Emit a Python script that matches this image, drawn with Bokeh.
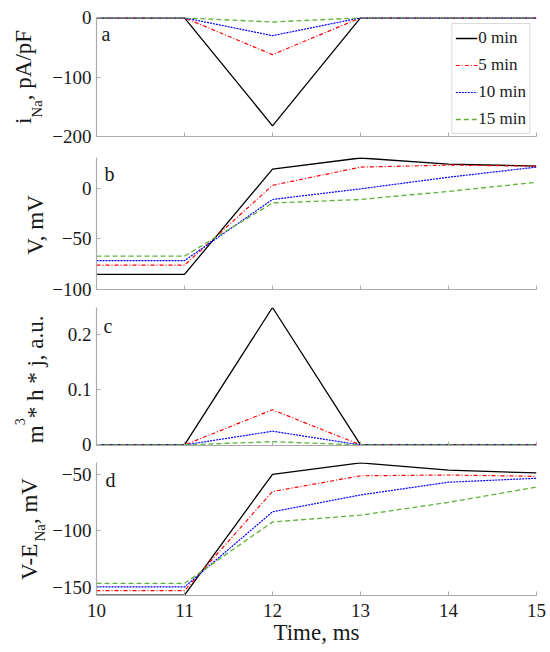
import math
from bokeh.plotting import figure
from bokeh.models import Range1d, FixedTicker, Label
from bokeh.layouts import column, row
from bokeh.core.properties import value
from bokeh.embed import file_html
from bokeh.resources import INLINE

# ---------------- data ----------------
time_ms = [10, 11, 12, 13, 14, 15]
series_names = ["0 min", "5 min", "10 min", "15 min"]

ina_0 = [0, 0, -182, 0, 0, 0]
ina_5 = [0, 0, -62, 0, 0, 0]
ina_10 = [0, 0, -30, 0, 0, 0]
ina_15 = [0, 0, -7, 0, 0, 0]

v_0 = [-85, -85, 19, 30, 24, 22]
v_5 = [-76, -76, 3, 21, 23, 22]
v_10 = [-71.5, -71.5, -11, -0.5, 11, 21]
v_15 = [-67, -67, -14.5, -11, -3, 6]

gate_0 = [0, 0, 0.25, 0, 0, 0]
gate_5 = [0, 0, 0.064, 0, 0, 0]
gate_10 = [0, 0, 0.025, 0, 0, 0]
gate_15 = [0, 0, 0.006, 0, 0, 0]

vena_0 = [-157, -157, -49.7, -39.5, -46, -48.5]
vena_5 = [-153, -153, -65, -51, -50.3, -51.5]
vena_10 = [-149.7, -149.7, -83, -68, -56.7, -53.2]
vena_15 = [-146.5, -146.5, -92, -86, -74.6, -61]

yticks_a = [-200, -100, 0]
ylabels_a = ["\u2212200", "\u2212100", "0"]
yticks_b = [-100, -50, 0]
ylabels_b = ["\u2212100", "\u221250", "0"]
yticks_c = [0, 0.1, 0.2]
ylabels_c = ["0", "0.1", "0.2"]
yticks_d = [-150, -100, -50]
ylabels_d = ["\u2212150", "\u2212100", "\u221250"]
xtick_labels = ["10", "11", "12", "13", "14", "15"]

# ---------------- style ----------------
FONT = "Liberation Serif"
AXIS_GRAY = "#ababab"
TXT = "#1a1a1a"
FRAME_W = 440
LABEL_W = 49          # width of the strip that holds the y-axis titles
BORDER_L = 45         # space for tick labels inside each panel
LABEL_H = 650

styles = [
    dict(line_color="black", line_width=1.3),
    dict(line_color="#ff0000", line_width=1.2, line_dash="4 2 1 2"),
    dict(line_color="#0000ff", line_width=1.2, line_dash="2 1"),
    dict(line_color="#5fb33a", line_width=1.3, line_dash="5 3"),
]

# Times-like advance widths (per 1000 em) for placing label pieces
W = {' ': 250, ',': 250, '.': 250, '-': 333, '/': 278, '*': 500, 'A': 722,
     'E': 611, 'F': 556, 'N': 722, 'V': 722, 'T': 611, 'a': 444, 'e': 444,
     'h': 500, 'i': 278, 'j': 278, 'm': 778, 'n': 500, 'p': 500, 's': 389,
     'u': 500, '3': 500}


def make_fig(y0, y1, fh, top, bottom, yticks, ylabels, show_x=False):
    p = figure(frame_width=FRAME_W, frame_height=fh,
               min_border_left=BORDER_L, min_border_right=12,
               min_border_top=top, min_border_bottom=bottom,
               x_range=Range1d(10, 15), y_range=Range1d(y0, y1),
               output_backend="svg", toolbar_location=None, title=None)
    p.outline_line_color = None
    p.grid.grid_line_color = None
    p.background_fill_color = "white"
    p.border_fill_alpha = 0
    for ax in p.axis:
        ax.axis_line_color = AXIS_GRAY
        ax.axis_line_width = 1.2
        ax.major_tick_line_color = AXIS_GRAY
        ax.major_tick_in = 4
        ax.major_tick_out = 0
        ax.minor_tick_line_color = None
        ax.major_label_text_font = FONT
        ax.major_label_text_font_size = "19px"
        ax.major_label_text_color = TXT
    p.yaxis.ticker = FixedTicker(ticks=yticks)
    p.yaxis.major_label_overrides = dict(zip(yticks, ylabels))
    p.yaxis.major_label_standoff = 5
    p.xaxis.ticker = FixedTicker(ticks=time_ms)
    if show_x:
        p.xaxis.major_label_overrides = dict(zip(time_ms, xtick_labels))
        p.xaxis.major_label_standoff = 8
    else:
        p.xaxis.major_label_overrides = {t: "" for t in time_ms}
        p.xaxis.major_label_text_font_size = "1px"
        p.xaxis.major_label_standoff = 0
    return p


def add_lines(p, series, legend=False):
    for name, ys, st in zip(series_names, series, styles):
        if legend:
            p.line(time_ms, ys, legend_label=name, **st)
        else:
            p.line(time_ms, ys, **st)


def letter(p, txt, x, y):
    p.add_layout(Label(x=x, y=y, x_units="screen", y_units="screen", text=txt,
                       text_align="left", text_baseline="alphabetic",
                       text_font=FONT, text_font_size="20px", text_color=TXT))


# ---------------- label strip (y-axis titles, rotated) ----------------
lab = figure(width=LABEL_W, height=LABEL_H, x_range=Range1d(0, LABEL_W),
             y_range=Range1d(0, LABEL_H), min_border=0, toolbar_location=None,
             output_backend="svg", x_axis_type=None, y_axis_type=None, title=None)
lab.outline_line_color = None
lab.background_fill_alpha = 0
lab.border_fill_alpha = 0


def ylabel(center_from_top, parts):
    widths = [sum(W[c] for c in t) / 1000.0 * size for t, size, _ in parts]
    pos = (LABEL_H - center_from_top) - sum(widths) / 2.0
    for (t, size, bx), w in zip(parts, widths):
        lab.text(x=[bx], y=[pos], text=[t], angle=math.pi / 2,
                 text_align="left", text_baseline="alphabetic",
                 text_font=value(FONT), text_font_size=f"{size}px",
                 text_color=TXT)
        pos += w


# ---------------- panels ----------------
FH_A, FH_B, FH_C, FH_D = 119, 132, 138, 133

pa = make_fig(-200, 0.6, FH_A, 17, 12, yticks_a, ylabels_a)
add_lines(pa, [ina_0, ina_5, ina_10, ina_15], legend=True)
lg = pa.legend[0]
lg.location = "top_right"
lg.margin = 6
lg.padding = 3
lg.spacing = 5
lg.label_height = 22
lg.glyph_height = 22
lg.glyph_width = 22
lg.label_standoff = 1
lg.label_text_font = FONT
lg.label_text_font_size = "17px"
lg.label_text_color = TXT
lg.border_line_color = "#b8b8b8"
lg.border_line_width = 1
lg.background_fill_alpha = 1.0
letter(pa, "a", 5, FH_A - 16)

pb = make_fig(-100, 30.5, FH_B, 9, 12, yticks_b, ylabels_b)
add_lines(pb, [v_0, v_5, v_10, v_15])
letter(pb, "b", 8, FH_B - 16)

pc = make_fig(-0.001, 0.25, FH_C, 6, 12, yticks_c, ylabels_c)
add_lines(pc, [gate_0, gate_5, gate_10, gate_15])
letter(pc, "c", 7, FH_C - 18)

pd = make_fig(-157.3, -39.2, FH_D, 5, 50, yticks_d, ylabels_d, show_x=True)
add_lines(pd, [vena_0, vena_5, vena_10, vena_15])
letter(pd, "d", 9, FH_D - 17)
pd.xaxis.axis_label = "Time, ms"
pd.xaxis.axis_label_text_font = FONT
pd.xaxis.axis_label_text_font_size = "23px"
pd.xaxis.axis_label_text_font_style = "normal"
pd.xaxis.axis_label_text_color = TXT
pd.xaxis.axis_label_standoff = 0

# y-axis titles (centres of each panel frame, measured from the page top)
ylabel(76.5, [("i", 23, 22.7), ("Na", 15, 36), (", pA/pF", 23, 22.7)])
ylabel(223, [("V, mV", 23, 34.5)])
ylabel(376, [("m", 23, 34.5), ("3", 14, 19), (" * h * j, a.u.", 23, 34.5)])
ylabel(528.5, [("V-E", 23, 29), ("Na", 15, 39.5), (", mV", 23, 29)])

layout = row(lab, column(pa, pb, pc, pd, spacing=0), spacing=0)
open("out.html", "w").write(file_html(layout, INLINE))
